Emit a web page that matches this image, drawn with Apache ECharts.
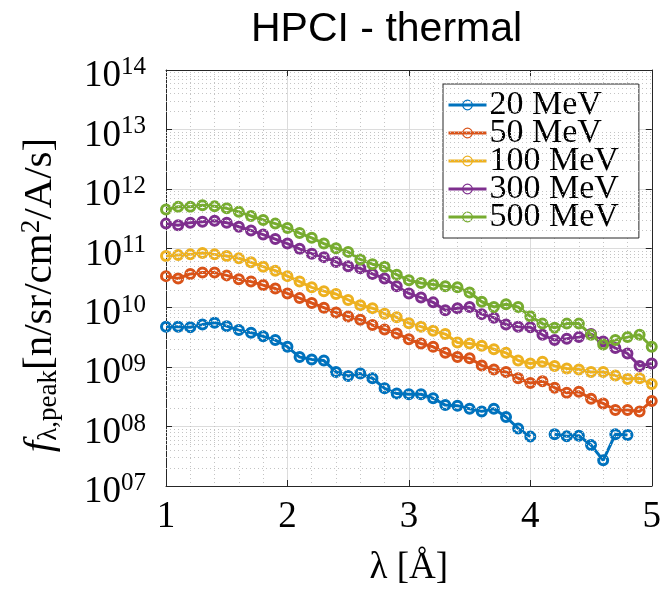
<!DOCTYPE html>
<html>
<head>
<meta charset="utf-8">
<script src="https://cdn.jsdelivr.net/npm/echarts@6/dist/echarts.min.js"></script>
<style>
html,body{margin:0;padding:0;background:#fff;}
#chart{width:664px;height:596px;}
</style>
</head>
<body>
<div id="chart"></div>
<script>
// ---- data ----
const lambda = [1.0,1.1,1.2,1.3,1.4,1.5,1.6,1.7,1.8,1.9,2.0,2.1,2.2,2.3,2.4,2.5,2.6,2.7,2.8,2.9,3.0,3.1,3.2,3.3,3.4,3.5,3.6,3.7,3.8,3.9,4.0,4.1,4.2,4.3,4.4,4.5,4.6,4.7,4.8,4.9,5.0];
const seriesNames = ['20 MeV','50 MeV','100 MeV','300 MeV','500 MeV'];
const f20 = [4.8e9,4.8e9,4.7e9,5.2e9,5.6e9,4.9e9,4.2e9,3.8e9,3.3e9,2.85e9,2.2e9,1.48e9,1.35e9,1.29e9,8.3e8,7.1e8,7.8e8,6.5e8,4.4e8,3.6e8,3.5e8,3.5e8,3.0e8,2.3e8,2.25e8,2.0e8,1.8e8,2.0e8,1.45e8,9.3e7,6.8e7,null,7.4e7,6.9e7,7.0e7,4.9e7,2.7e7,7.4e7,7.2e7,null,null];
const f50 = [3.4e10,3.1e10,3.7e10,3.9e10,3.9e10,3.5e10,3.0e10,2.75e10,2.4e10,2.1e10,1.74e10,1.45e10,1.2e10,1.0e10,8.3e9,7.1e9,6.3e9,5.1e9,4.3e9,3.7e9,2.95e9,2.5e9,2.2e9,1.74e9,1.48e9,1.41e9,1.07e9,9.1e8,8.3e8,6.5e8,5.4e8,5.8e8,4.5e8,3.7e8,3.85e8,2.95e8,2.45e8,1.9e8,1.9e8,1.8e8,2.7e8];
const f100 = [7.4e10,7.7e10,7.9e10,8.3e10,7.9e10,7.4e10,6.8e10,5.8e10,4.9e10,4.2e10,3.4e10,2.75e10,2.2e10,1.9e10,1.7e10,1.35e10,1.1e10,9.8e9,7.9e9,6.9e9,5.5e9,4.8e9,4.1e9,3.6e9,2.6e9,2.5e9,2.3e9,2.0e9,1.74e9,1.29e9,1.15e9,1.23e9,1.05e9,9.5e8,9.1e8,8.3e8,8.3e8,7.2e8,6.3e8,6.5e8,5.2e8];
const f300 = [2.6e11,2.45e11,2.7e11,2.8e11,2.9e11,2.7e11,2.3e11,2.0e11,1.7e11,1.43e11,1.2e11,9.8e10,8.1e10,7.1e10,5.9e10,5.0e10,4.6e10,3.7e10,3.1e10,2.3e10,1.74e10,1.48e10,1.23e10,9.1e9,9.8e9,1.03e10,7.8e9,6.8e9,5.2e9,4.8e9,4.7e9,3.5e9,2.85e9,3.0e9,3.2e9,3.6e9,2.7e9,2.1e9,1.7e9,1.05e9,1.15e9];
const f500 = [4.5e11,5.0e11,5.0e11,5.3e11,5.1e11,4.7e11,4.1e11,3.5e11,3.0e11,2.6e11,2.2e11,1.8e11,1.5e11,1.2e11,1.0e11,8.7e10,6.5e10,5.4e10,4.9e10,3.6e10,2.9e10,2.6e10,2.45e10,2.3e10,2.2e10,1.8e10,1.26e10,1.03e10,1.14e10,1.03e10,7.2e9,5.4e9,4.6e9,5.4e9,5.4e9,3.5e9,2.4e9,2.85e9,3.2e9,3.5e9,2.2e9];
const xTicks = [1,2,3,4,5];
const yMin = 1e7, yMax = 1e14;

const colors = ['#0072BD','#D95319','#EDB120','#7E2F8E','#77AC30'];
const allValues = [f20,f50,f100,f300,f500];

// minor log grid values (2..9 x 10^d)
const minorY = [];
for (let d = 7; d < 14; d++) for (let k = 2; k <= 9; k++) minorY.push(k * Math.pow(10, d));

const serif = 'Liberation Serif';

const series = allValues.map((vals, i) => ({
  name: seriesNames[i],
  type: 'line',
  data: lambda.map((x, j) => [x, vals[j] == null ? '-' : vals[j]]),
  symbol: 'circle',
  symbolSize: 9,
  showAllSymbol: true,
  connectNulls: false,
  lineStyle: {color: colors[i], width: 3, type: 'solid'},
  itemStyle: {color: 'rgba(255,255,255,0)', borderColor: colors[i], borderWidth: 3},
  z: 3
}));
series.unshift({
  name: 'minorgrid',
  type: 'line',
  data: [],
  silent: true,
  z: 1,
  markLine: {
    silent: true,
    symbol: ['none','none'],
    label: {show: false},
    animation: false,
    lineStyle: {type: [1,3], color: '#c4c4c4', width: 1},
    data: minorY.map(v => ({yAxis: v}))
  }
});

const axisColor = '#262626';
const chart = echarts.init(document.getElementById('chart'));
chart.setOption({
  animation: false,
  backgroundColor: '#fff',
  color: colors,
  title: {
    text: 'HPCI - thermal',
    left: 246, top: 4,
    textStyle: {fontFamily: 'Liberation Sans', fontSize: 41, fontWeight: 'normal', color: '#000'}
  },
  grid: {left: 166, right: 10, top: 70, bottom: 110, containLabel: false},
  legend: {
    data: seriesNames.map((n, i) => ({
      name: n,
      itemStyle: {color: 'rgba(255,255,255,0)', borderColor: colors[i], borderWidth: 1.2},
      lineStyle: {color: colors[i], width: 3, type: 'solid'}
    })),
    orient: 'vertical',
    left: 443, top: 84,
    padding: [4, 20, 4, 4],
    itemGap: -6,
    itemWidth: 38,
    itemHeight: 12,
    backgroundColor: '#fff',
    borderColor: axisColor,
    borderWidth: 1,
    borderRadius: 0,
    textStyle: {fontFamily: serif, fontSize: 34, color: '#000', padding: [0,0,0,-2]}
  },
  xAxis: [{
    type: 'value', min: 1, max: 5, interval: 1,
    position: 'bottom',
    axisLine: {show: true, onZero: false, lineStyle: {color: axisColor, width: 1}},
    axisTick: {show: true, inside: true, length: 6, lineStyle: {color: axisColor}},
    axisLabel: {fontFamily: serif, fontSize: 37, color: '#000', margin: 13,
      formatter: v => xTicks.includes(v) ? String(v) : ''},
    splitLine: {show: true, lineStyle: {color: '#dcdcdc', width: 1}},
    minorTick: {show: false, splitNumber: 5},
    minorSplitLine: {show: true, lineStyle: {color: '#c4c4c4', type: [1,3], width: 1}},
    name: 'λ [Å]',
    nameLocation: 'middle',
    nameGap: 64,
    nameTextStyle: {fontFamily: serif, fontSize: 37, color: '#000'}
  }, {
    type: 'value', min: 1, max: 5, interval: 1,
    position: 'top',
    axisLine: {show: true, onZero: false, lineStyle: {color: axisColor, width: 1}},
    axisTick: {show: true, inside: true, length: 6, lineStyle: {color: axisColor}},
    axisLabel: {show: false},
    splitLine: {show: false}
  }],
  yAxis: [{
    type: 'log', logBase: 10, min: yMin, max: yMax,
    position: 'left',
    axisLine: {show: true, onZero: false, lineStyle: {color: axisColor, width: 1}},
    axisTick: {show: true, inside: true, length: 6, lineStyle: {color: axisColor}},
    axisLabel: {
      margin: 20,
      padding: [10, 0, 0, 0],
      formatter: v => {
        const e = Math.round(Math.log10(v));
        return '{b|10}{s|' + String(e).padStart(2, '0') + '}';
      },
      rich: {
        b: {fontFamily: serif, fontSize: 37, color: '#000', lineHeight: 40, verticalAlign: 'bottom'},
        s: {fontFamily: serif, fontSize: 25, color: '#000', lineHeight: 25, verticalAlign: 'top'}
      }
    },
    splitLine: {show: true, lineStyle: {color: '#dcdcdc', width: 1}},
    name: '{fi|f}{sub|λ,peak}{n|[n/sr/cm}{sup|2}{n|/A/s]}',
    nameLocation: 'middle',
    nameRotate: 90,
    nameGap: 104,
    nameTextStyle: {
      padding: [0, 34, 0, 0],
      rich: {
        fi: {fontFamily: serif, fontStyle: 'italic', fontSize: 41, color: '#000', lineHeight: 44, verticalAlign: 'middle'},
        sub: {fontFamily: serif, fontSize: 27, color: '#000', lineHeight: 27, verticalAlign: 'bottom'},
        n: {fontFamily: serif, fontSize: 41, color: '#000', lineHeight: 44, verticalAlign: 'middle'},
        sup: {fontFamily: serif, fontSize: 27, color: '#000', lineHeight: 27, verticalAlign: 'top'}
      }
    }
  }, {
    type: 'log', logBase: 10, min: yMin, max: yMax,
    position: 'right',
    axisLine: {show: true, onZero: false, lineStyle: {color: axisColor, width: 1}},
    axisTick: {show: true, inside: true, length: 6, lineStyle: {color: axisColor}},
    axisLabel: {show: false},
    splitLine: {show: false}
  }],
  series: series
});
</script>
</body>
</html>
